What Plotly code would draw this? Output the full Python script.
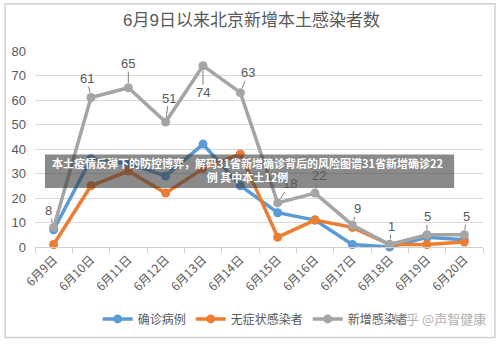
import plotly.graph_objects as go

dates = ["6月9日", "6月10日", "6月11日", "6月12日", "6月13日", "6月14日",
         "6月15日", "6月16日", "6月17日", "6月18日", "6月19日", "6月20日"]
confirmed = [7, 36, 34, 29, 42, 25, 14, 11, 1, 0, 4, 3]
asymptomatic = [1, 25, 31, 22, 32, 38, 4, 11, 8, 1, 1, 2]
total = [8, 61, 65, 51, 74, 63, 18, 22, 9, 1, 5, 5]
yticks = [0, 10, 20, 30, 40, 50, 60, 70, 80]

BLUE = "#5B9BD5"
ORANGE = "#ED7D31"
GRAY = "#A5A5A5"
TXT = "#595959"
FONT = "Liberation Sans, Noto Sans CJK SC"

fig = go.Figure()
for name, vals, col in [("确诊病例", confirmed, BLUE),
                        ("无症状感染者", asymptomatic, ORANGE),
                        ("新增感染者", total, GRAY)]:
    fig.add_trace(go.Scatter(x=dates, y=vals, name=name, mode="lines+markers",
                             line=dict(color=col, width=3.5),
                             marker=dict(color=col, size=9),
                             cliponaxis=False))

# label offsets (pixels) for the total series
offs = [(-5, -17), (-4, -19), (0, -24), (3, -24), (0, 27), (8, -20),
        (12, -19), (4, -18), (5, -16), (2, -18), (0, -18), (2, -18)]
for d, v, (ax, ay) in zip(dates, total, offs):
    fig.add_annotation(x=d, y=v, text=str(v), showarrow=True, arrowhead=0,
                       arrowwidth=1, arrowcolor="#7f7f7f", ax=ax, ay=ay,
                       standoff=5, font=dict(size=13, color=TXT, family=FONT),
                       borderpad=0)

# title
fig.add_annotation(xref="paper", yref="paper", x=(250 - 33) / 450, y=(250 - 20) / 199,
                   text="6月9日以来北京新增本土感染者数", showarrow=False,
                   font=dict(size=17, color=TXT, family=FONT), xanchor="center", yanchor="middle")

# overlay banner
fig.add_shape(type="rect", xref="paper", yref="paper",
              x0=(43 - 33) / 450, x1=(454 - 33) / 450,
              y0=(250 - 190) / 199, y1=(250 - 156) / 199,
              fillcolor="rgba(60,60,60,0.6)", line=dict(width=0), layer="above")
fig.add_annotation(xref="paper", yref="paper", x=(246 - 33) / 450, y=(250 - 171.5) / 199,
                   text="<b>本土疫情反弹下的防控博弈，解码31省新增确诊背后的风险图谱31省新增确诊22<br>例 其中本土12例</b>",
                   showarrow=False, align="center",
                   font=dict(size=11, color="white", family="Noto Sans CJK SC"),
                   xanchor="center", yanchor="middle")

# watermark
fig.add_annotation(xref="paper", yref="paper", x=(488 - 33) / 450, y=(250 - 323) / 199,
                   text="知乎 @声智健康", showarrow=False, xanchor="right", yanchor="middle",
                   font=dict(size=13, color="#b0b0b0", family="Noto Sans CJK SC"))

# outer frame
fig.add_shape(type="rect", xref="paper", yref="paper",
              x0=(3 - 33) / 450, x1=(495 - 33) / 450,
              y0=(250 - 342) / 199, y1=(250 - 3) / 199,
              line=dict(color="#d0d0d0", width=1.5), fillcolor="rgba(0,0,0,0)", layer="below")

fig.update_layout(
    width=500, height=345,
    margin=dict(l=33, r=17, t=51, b=95),
    paper_bgcolor="white", plot_bgcolor="white",
    font=dict(family=FONT, color=TXT),
    showlegend=True,
    legend=dict(orientation="h", x=(96 - 33) / 450, y=(250 - 323) / 199,
                xanchor="left", yanchor="middle",
                font=dict(size=12, color=TXT, family="Noto Sans CJK SC"),
                itemwidth=30, tracegroupgap=0, bgcolor="rgba(0,0,0,0)"),
    xaxis=dict(type="category", range=[-0.5, 11.5], tickangle=-45,
               tickfont=dict(size=12, color=TXT, family="Noto Sans CJK SC"),
               showgrid=False, ticks="outside", tickson="boundaries",
               ticklen=5, tickcolor="#d0d0d0", showline=True, linecolor="#d0d0d0",
               linewidth=1, zeroline=False),
    yaxis=dict(range=[0, 80], tickvals=yticks, showgrid=True, gridcolor="#d9d9d9",
               gridwidth=1, zeroline=False, showline=False, ticks="",
               tickfont=dict(size=13, color=TXT), ticklabelstandoff=8),
)

fig.write_html("out.html")
